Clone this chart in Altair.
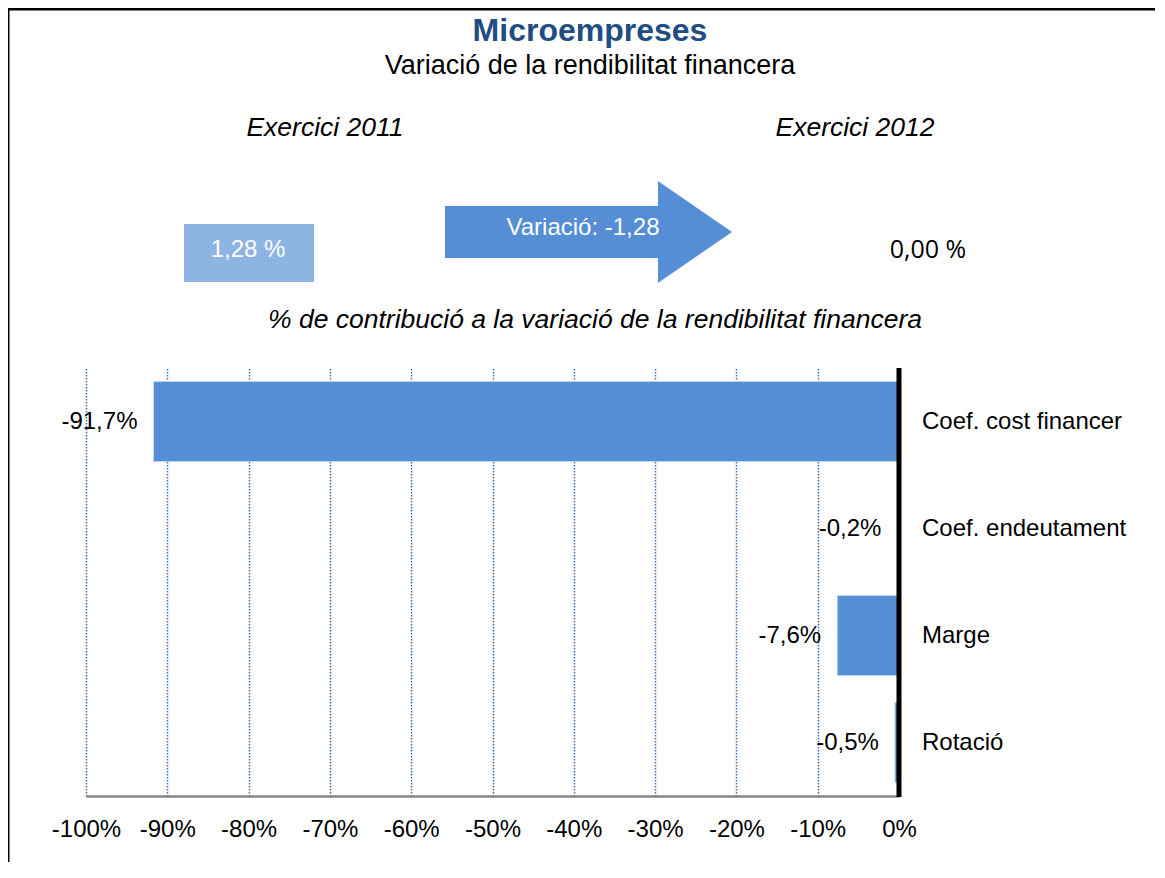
import altair as alt
import pandas as pd

# ---- data ----
categories = ["Coef. cost financer", "Coef. endeutament", "Marge", "Rotació"]
contrib = [-91.7, -0.2, -7.6, -0.5]
x_ticks = [-100, -90, -80, -70, -60, -50, -40, -30, -20, -10, 0]

title_text = "Microempreses"
subtitle_text = "Variació de la rendibilitat financera"
year_labels = ["Exercici 2011", "Exercici 2012"]
start_value = "1,28 %"
end_value = "0,00 %"
variation_text = "Variació: -1,28"
section_title = "% de contribució a la variació de la rendibilitat financera"

FONT = "Liberation Sans"
BAR = "#558ED5"
W, H = 813, 428

df = pd.DataFrame({"cat": categories, "v": contrib})
df["label"] = [f"{v:.1f}".replace(".", ",") + "%" for v in contrib]

xs = alt.Scale(domain=[-100, 0], nice=False, zero=False)
ys = alt.Scale(domain=categories, paddingInner=0.25, paddingOuter=0.125)

base = alt.Chart(df)

bars = base.mark_bar(color=BAR, stroke="#C6D9F1", strokeWidth=1).encode(
    x=alt.X("v:Q", scale=xs, axis=alt.Axis(
        values=x_ticks, labelExpr="datum.value + '%'", title=None,
        grid=True, gridColor="#3E6DB0", gridDash=[1.5, 1.5], gridWidth=1.5,
        ticks=False, domainColor="#868686", domainWidth=2.5,
        labelFont=FONT, labelFontSize=24, labelColor="black", labelPadding=21,
        labelFlush=False)),
    x2=alt.datum(0),
    y=alt.Y("cat:N", scale=ys, axis=None, sort=categories),
)

vals = base.mark_text(align="right", baseline="middle", dx=-16, font=FONT,
                      fontSize=24, color="black").encode(
    x=alt.X("v:Q", scale=xs), y=alt.Y("cat:N", scale=ys, sort=categories),
    text="label:N")

cats = base.mark_text(align="left", baseline="middle", font=FONT, fontSize=24,
                      color="black").encode(
    x=alt.value(836), y=alt.Y("cat:N", scale=ys, sort=categories), text="cat:N")

zero_line = alt.Chart(pd.DataFrame({"z": [0]})).mark_rule(
    color="black", strokeWidth=5).encode(
    x=alt.X("z:Q", scale=xs), y=alt.value(0), y2=alt.value(H + 1))

one = pd.DataFrame({"a": [0]})

def txt(t, x, y, size=24, color="black", style="normal", weight="normal", font=FONT):
    return alt.Chart(one).mark_text(
        text=t, font=font, fontSize=size, color=color, fontStyle=style,
        fontWeight=weight, align="center", baseline="middle").encode(
        x=alt.value(x), y=alt.value(y))

border = alt.Chart(one).mark_rect(fill=None, stroke="black", strokeWidth=3).encode(
    x=alt.value(-78), x2=alt.value(1400), y=alt.value(-359), y2=alt.value(900))

start_box = alt.Chart(one).mark_rect(color="#8EB4E3").encode(
    x=alt.value(98), x2=alt.value(228), y=alt.value(-144), y2=alt.value(-86))

arrow_path = ("M -1 -0.181 L 0.484 -0.181 L 0.484 -0.355 L 1 0 "
              "L 0.484 0.355 L 0.484 0.181 L -1 0.181 Z")
arrow = alt.Chart(one).mark_point(shape=arrow_path, filled=True, color=BAR,
                                  opacity=1, size=287 * 287, strokeWidth=0).encode(
    x=alt.value(502.5), y=alt.value(-136))

layers = [
    border, bars, zero_line, vals, cats, start_box, arrow,
    txt(title_text, 504, -337, size=32, color="#1F4E84", weight="bold"),
    txt(subtitle_text, 504, -302, size=27),
    txt(year_labels[0], 239, -240, size=26.5, style="italic"),
    txt(year_labels[1], 769, -240, size=26.5, style="italic"),
    txt(start_value, 162, -118, size=24, color="white"),
    txt(variation_text, 497, -140, size=24, color="white"),
    txt(end_value, 842, -118, size=25, font="Open Sans"),
    txt(section_title, 509, -48, size=26.5, style="italic"),
]

chart = alt.layer(*layers).properties(
    width=W, height=H,
    autosize=alt.AutoSizeParams(type="none"),
    padding={"left": 78, "top": 360, "right": 256, "bottom": 66},
).configure_view(stroke=None)

chart.save("out.html", embed_options={"renderer": "svg", "actions": False})
